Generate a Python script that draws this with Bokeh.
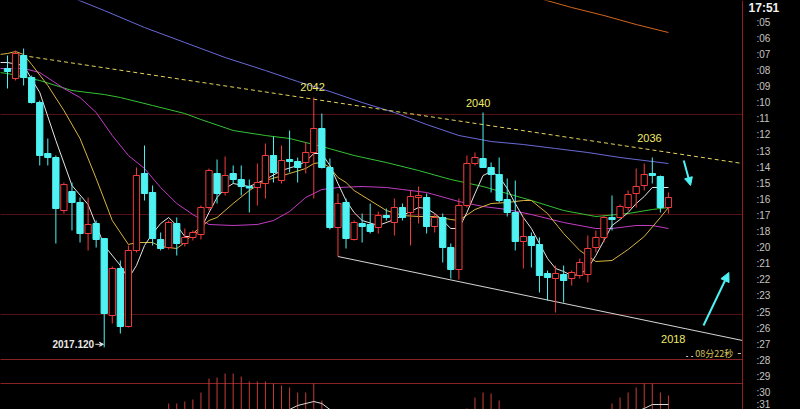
from bokeh.plotting import figure
from bokeh.models import (Range1d, LinearAxis, FixedTicker, CustomJSTickFormatter,
                          Arrow, NormalHead, VeeHead, ColumnDataSource)
from bokeh.embed import file_html
from bokeh.resources import INLINE
from bokeh.core.properties import value

NAN = float("nan")

# ---------------- data ----------------
opens = [2045.0, 2044.0, 2046.3, 2044.1, 2041.6, 2036.5, 2036.1, 2030.8, 2032.7, 2031.6,
         2028.5, 2029.5, 2028.0, 2020.3, 2025.0, 2019.2, 2026.8, 2034.5, 2032.6, 2027.9,
         2027.1, 2029.5, 2027.5, 2028.1, 2028.4, 2031.1, 2034.5, 2032.6, 2034.5, 2033.9,
         2033.2, 2033.1, 2033.5, 2036.3, 2033.8, 2035.9, 2035.7, 2035.6, 2036.6, 2039.0,
         2035.1, 2029.1, 2031.6, 2027.9, 2029.5, 2029.4, 2029.1, 2030.3, 2029.6, 2031.1,
         2030.6, 2032.1, 2032.1, 2029.2, 2030.1, 2027.1, 2024.9, 2031.3, 2035.5, 2036.0,
         2035.1, 2034.4, 2031.9, 2030.6, 2027.7, 2028.2, 2027.4, 2024.5, 2024.0, 2024.4,
         2024.0, 2024.3, 2024.4, 2027.1, 2028.1, 2030.1, 2030.1, 2031.1, 2032.5, 2033.3,
         2034.5, 2034.2, 2031.1]
highs = [2046.3, 2046.8, 2047.0, 2044.3, 2041.8, 2038.0, 2036.3, 2033.6, 2033.6, 2032.1,
         2032.1, 2029.8, 2028.0, 2025.2, 2025.8, 2027.3, 2035.1, 2037.3, 2033.3, 2028.6,
         2029.8, 2030.1, 2029.0, 2028.8, 2031.3, 2035.0, 2035.9, 2036.2, 2035.3, 2035.3,
         2033.9, 2035.5, 2037.5, 2038.2, 2037.3, 2038.8, 2036.1, 2037.6, 2042.1, 2040.5,
         2036.0, 2032.5, 2032.0, 2029.8, 2030.5, 2031.5, 2030.7, 2031.0, 2032.0, 2031.5,
         2032.8, 2033.2, 2032.5, 2030.5, 2030.5, 2027.5, 2032.0, 2036.3, 2036.6, 2040.6,
         2035.6, 2036.1, 2034.0, 2033.8, 2030.1, 2028.6, 2028.1, 2024.8, 2025.3, 2025.3,
         2024.8, 2026.0, 2028.3, 2028.8, 2030.3, 2032.3, 2031.4, 2032.8, 2035.0, 2035.5,
         2036.1, 2034.3, 2032.6]
lows = [2043.0, 2043.8, 2043.3, 2041.5, 2035.3, 2035.3, 2027.5, 2030.5, 2028.8, 2027.6,
        2026.8, 2027.1, 2017.12, 2019.5, 2018.5, 2019.1, 2026.6, 2031.8, 2027.3, 2026.8,
        2026.9, 2026.3, 2027.2, 2027.8, 2027.9, 2030.8, 2031.5, 2032.3, 2033.5, 2032.3,
        2030.6, 2031.3, 2032.0, 2033.6, 2033.5, 2034.6, 2033.6, 2034.5, 2032.0, 2035.0,
        2028.9, 2026.2, 2027.0, 2027.8, 2027.6, 2028.5, 2028.5, 2029.8, 2028.3, 2029.8,
        2027.3, 2029.5, 2028.5, 2028.6, 2025.6, 2024.0, 2023.9, 2031.1, 2035.3, 2035.1,
        2032.6, 2031.6, 2030.2, 2026.8, 2025.0, 2025.1, 2022.6, 2021.8, 2020.6, 2021.6,
        2023.3, 2024.0, 2023.6, 2026.6, 2027.6, 2028.8, 2030.0, 2030.8, 2031.1, 2032.8,
        2033.5, 2030.6, 2030.5]
closes = [2044.7, 2046.5, 2044.1, 2041.6, 2036.3, 2036.1, 2031.0, 2033.4, 2031.6, 2028.5,
          2029.4, 2027.9, 2020.5, 2025.0, 2019.2, 2026.8, 2034.3, 2032.5, 2028.0, 2027.0,
          2029.6, 2027.5, 2028.1, 2028.6, 2031.1, 2034.8, 2032.5, 2034.3, 2033.9, 2033.2,
          2033.05, 2033.6, 2036.3, 2034.6, 2035.8, 2035.7, 2035.1, 2036.6, 2039.0, 2035.1,
          2029.1, 2031.5, 2028.0, 2029.6, 2029.2, 2028.7, 2030.3, 2030.1, 2031.1, 2030.1,
          2032.2, 2032.3, 2029.2, 2030.1, 2027.1, 2024.9, 2031.3, 2035.5, 2036.1, 2035.1,
          2034.4, 2031.8, 2030.6, 2027.7, 2028.2, 2027.3, 2024.3, 2024.1, 2024.5, 2023.8,
          2024.6, 2025.6, 2027.0, 2028.1, 2030.1, 2029.9, 2031.2, 2032.4, 2033.2, 2034.4,
          2034.3, 2031.1, 2032.1]

# moving-average lines, sampled at candle positions
ma_white_i = [-1, 0, 2, 4, 6, 8, 10, 12, 14, 15, 16, 17, 18, 19, 20, 21, 22, 23, 24, 25, 26, 27,
              28, 30, 32, 34, 36, 37, 38, 39, 40, 41, 42, 43, 44, 46, 48, 50, 51, 52, 53, 54, 55,
              56, 57, 58, 59, 60, 61, 62, 63, 64, 65, 66, 67, 68, 69, 70, 71, 72, 73, 74, 75, 76,
              77, 78, 79, 80, 81, 82]
ma_white_p = [2045.6, 2045.6, 2045.3, 2042.6, 2037.8, 2033.3, 2031.4, 2027.3, 2025.3, 2024.0,
              2025.3, 2027.3, 2028.5, 2029.5, 2030.1, 2029.3, 2028.2, 2028.2, 2029.0, 2030.6,
              2032.1, 2033.0, 2033.5, 2033.2, 2033.9, 2034.8, 2035.3, 2035.7, 2036.5, 2036.5,
              2035.3, 2033.5, 2031.8, 2030.6, 2029.8, 2029.3, 2029.9, 2030.7, 2031.1, 2031.0,
              2030.5, 2029.8, 2029.0, 2029.0, 2030.6, 2032.5, 2034.3, 2034.7, 2034.2, 2033.0,
              2031.5, 2030.1, 2029.0, 2027.5, 2026.0, 2025.0, 2024.7, 2024.3, 2024.4, 2025.0,
              2026.3, 2027.8, 2029.3, 2029.9, 2030.6, 2031.5, 2032.2, 2033.1, 2033.1, 2033.1]
ma_yellow_i = [-1, 0, 1, 2, 3, 5, 7, 9, 11, 13, 15, 16, 18, 19, 21, 22, 23, 25, 26, 28, 30, 32,
               35, 37, 38, 39, 40, 41, 42, 43, 45, 47, 49, 51, 53, 55, 56, 58, 60, 62, 64, 65,
               67, 69, 71, 73, 75, 77, 79, 81, 82]
ma_yellow_p = [2046.4, 2046.5, 2046.7, 2046.4, 2045.4, 2043.3, 2040.8, 2038.0, 2034.0, 2029.8,
               2027.4, 2027.6, 2027.6, 2027.2, 2027.0, 2027.6, 2028.5, 2029.8, 2030.1, 2031.5,
               2032.8, 2033.8, 2034.5, 2035.0, 2035.5, 2035.6, 2035.1, 2034.1, 2033.6, 2032.8,
               2031.8, 2030.8, 2030.3, 2030.2, 2030.2, 2029.9, 2029.8, 2030.9, 2031.5, 2031.6,
               2031.8, 2031.8, 2030.5, 2028.5, 2026.8, 2025.7, 2025.8, 2026.9, 2028.2, 2030.1,
               2031.1]
ma_magenta_i = [-1, 0, 2, 4, 7, 9, 11, 13, 15, 17, 19, 21, 23, 25, 28, 31, 33, 35, 37, 39, 41,
                44, 47, 49, 52, 56, 59, 62, 65, 69, 73, 75, 78, 80, 82]
ma_magenta_p = [2045.0, 2045.0, 2045.0, 2044.6, 2043.0, 2042.1, 2040.6, 2038.3, 2036.3, 2035.0,
                2033.1, 2031.5, 2030.4, 2029.4, 2029.3, 2029.4, 2029.8, 2030.7, 2032.1, 2032.9,
                2033.1, 2033.2, 2033.1, 2032.9, 2032.6, 2031.7, 2031.2, 2030.9, 2030.4, 2029.6,
                2029.0, 2029.0, 2029.3, 2029.3, 2029.0]
ma_green_i = [-1, 0, 4, 8, 12, 14, 18, 22, 24, 28, 32, 35, 39, 43, 47, 51, 55, 59, 62, 65, 69,
              73, 77, 80, 82]
ma_green_p = [2044.6, 2044.5, 2043.8, 2042.8, 2042.4, 2042.1, 2041.3, 2040.5, 2039.9, 2038.8,
              2038.3, 2038.0, 2037.2, 2036.3, 2035.6, 2034.8, 2033.9, 2033.2, 2032.5, 2031.8,
              2030.8, 2030.2, 2030.5, 2030.9, 2031.1]
ma_blue_i = [8, 12, 17, 22, 27, 32, 36, 40, 44, 48, 52, 56, 60, 64, 68, 72, 76, 80, 82]
ma_blue_p = [2052.1, 2050.8, 2049.1, 2047.6, 2046.1, 2044.8, 2043.7, 2042.7, 2041.6, 2040.6,
             2039.4, 2038.3, 2037.7, 2037.4, 2037.0, 2036.6, 2036.1, 2035.7, 2035.5]
ma_orange_i = [66, 70, 74, 78, 82]
ma_orange_p = [2052.0, 2051.1, 2050.3, 2049.4, 2048.6]

# drawn trend lines
resist_i = [1, 91.19]
resist_p = [2046.4, 2035.5]
support_i = [41, 91.19]
support_p = [2026.2, 2017.8]

# MACD histogram (visible positive bars) and DIF line (gaps where hidden)
macd_i = [20, 21, 22, 23, 24, 25, 26, 27, 28, 29, 30, 31, 32, 33, 34, 35, 36, 37, 38, 39,
          57, 58, 59, 60, 61, 75, 76, 77, 78, 79, 80, 81, 82]
macd_v = [1.7, 1.7, 1.9, 2.1, 2.8, 4.2, 4.3, 4.7, 4.7, 4.4, 3.9, 3.9, 3.9, 3.7, 3.5, 3.3, 2.8,
          2.8, 3.7, 2.0, 1.2, 2.3, 2.8, 2.7, 2.0, 1.7, 2.3, 2.8, 3.3, 3.7, 3.7, 2.8, 2.5]
dif_i = [35, 36, 38, 39, 40, 41, 78, 79, 80, 82]
dif_v = [1.1, 1.5, 1.9, 1.7, 1.1, NAN, 0.9, 1.2, 1.6, 1.6]

# price axis labels
tick_vals = [2049.63, 2048.02, 2046.41, 2044.80, 2043.19, 2041.58, 2039.97, 2038.36, 2036.75,
             2035.14, 2033.53, 2031.92, 2030.31, 2028.70, 2027.09, 2025.48, 2023.87, 2022.26,
             2020.65, 2019.04, 2017.43, 2015.82, 2014.21, 2012.60, 2010.99]
tick_labels = [":05", ":06", ":07", ":08", ":09", ":10", ":11", ":12", ":13", ":14", ":15",
               ":16", ":17", ":18", ":20", ":21", ":22", ":23", ":25", ":26", ":27", ":28",
               ":29", ":30", ":31"]
grid_levels = [2040.4, 2030.4, 2020.4]
panel_levels = [6.1, 3.7]
axis_pos = 91.19

# annotations
peak_i = [37.85, 58.4, 79.65, 82.6]
peak_p = [2043.2, 2041.6, 2038.1, 2018.0]
peak_t = ["2042", "2040", "2036", "2018"]

UP = "#f23c3c"
DN = "#4ef2f2"
BG = "#000000"

# ---------------- figure ----------------
p = figure(width=800, height=409, output_backend="svg", toolbar_location=None,
           x_range=Range1d(-0.8685, 98.387), y_range=Range1d(2010.9, 2051.8),
           x_axis_location=None, y_axis_location=None,
           background_fill_color=BG, border_fill_color=BG, outline_line_color=None,
           min_border_left=0, min_border_top=0, min_border_bottom=0, min_border_right=0)
p.extra_y_ranges = {"macd": Range1d(1.1, 42.0)}
p.grid.visible = False

ax = LinearAxis(fixed_location=axis_pos)
ax.ticker = FixedTicker(ticks=tick_vals)
ax.formatter = CustomJSTickFormatter(args=dict(vals=tick_vals, labs=tick_labels), code="""
let best = 0;
for (let k = 0; k < vals.length; k++) {
  if (Math.abs(vals[k] - tick) < Math.abs(vals[best] - tick)) best = k;
}
return labs[best];
""")
ax.axis_line_color = "#9a1c1c"
ax.axis_line_width = 1
ax.major_tick_line_color = None
ax.minor_tick_line_color = None
ax.major_tick_out = 0
ax.major_tick_in = 0
ax.major_label_standoff = 14
ax.major_label_text_color = "#c4c4c4"
ax.major_label_text_font = "Liberation Sans"
ax.major_label_text_font_size = "10px"
p.add_layout(ax, "right")

# horizontal level lines (stop at the price axis)
for lv in grid_levels:
    p.line([-1, axis_pos], [lv, lv], line_color="#561212", line_width=1)
for lv in panel_levels:
    p.line([-1, axis_pos], [lv, lv], y_range_name="macd", line_color="#8a2424", line_width=1)

# MACD
p.segment(x0=macd_i, y0=[0] * len(macd_i), x1=macd_i, y1=macd_v, y_range_name="macd",
          line_color="#c83a3a", line_width=1)
p.line(dif_i, dif_v, y_range_name="macd", line_color="#d8d8d8", line_width=1)

# moving averages
p.line(ma_blue_i, ma_blue_p, line_color="#6a6ad8", line_width=1)
p.line(ma_orange_i, ma_orange_p, line_color="#d2661e", line_width=1)
p.line(ma_green_i, ma_green_p, line_color="#34c234", line_width=1)
p.line(ma_magenta_i, ma_magenta_p, line_color="#c23cc6", line_width=1)
p.line(ma_yellow_i, ma_yellow_p, line_color="#d8b440", line_width=1)
p.line(ma_white_i, ma_white_p, line_color="#e4e4e4", line_width=1)

# trend lines
p.line(resist_i, resist_p, line_color="#e6d45a", line_width=1, line_dash="4 3")
p.line(support_i, support_p, line_color="#d6d6d6", line_width=1)

# candles
idx = list(range(len(opens)))
is_up = [c >= o for o, c in zip(opens, closes)]
src = ColumnDataSource(dict(
    x=idx, o=opens, h=highs, l=lows, c=closes,
    top=[max(o, c) for o, c in zip(opens, closes)],
    bot=[min(o, c) for o, c in zip(opens, closes)],
    col=[UP if u else DN for u in is_up],
    fill=[BG if u else DN for u in is_up],
))
p.segment(x0="x", y0="h", x1="x", y1="l", line_color="col", line_width=1, source=src)
p.vbar(x="x", width=0.78, top="top", bottom="bot", fill_color="fill", line_color="col",
       line_width=1, source=src)

# peak / level labels
p.text(x=peak_i, y=peak_p, text=peak_t, text_color="#eeea6a", text_font=value("Liberation Sans"),
       text_font_size="11px", text_align="center", text_baseline="middle")
p.text(x=[10.75], y=[lows[12] + 0.3], text=["2017.120"], text_color="#e8e8e8",
       text_font=value("Liberation Sans"), text_font_style="bold", text_font_size="10px",
       text_align="right", text_baseline="middle")
p.add_layout(Arrow(end=VeeHead(size=4, line_color="#e8e8e8", fill_color="#e8e8e8"),
                   x_start=10.9, y_start=lows[12] + 0.3, x_end=11.9, y_end=lows[12] + 0.3,
                   line_color="#e8e8e8", line_width=1))
p.text(x=[87.7], y=[2016.5], text=["08分22秒"], text_color="#d8c45a",
       text_font=value("Noto Sans CJK SC"), text_font_size="9px",
       text_align="center", text_baseline="middle")
p.line([84.2, 85.4], [2016.2, 2016.2], line_color="#c8c8c8", line_width=1, line_dash="2 3")
p.line([90.6, 91.0], [2016.5, 2016.5], line_color="#c8c8c8", line_width=1)

# cyan arrows
p.add_layout(Arrow(end=NormalHead(size=8, line_color=DN, fill_color=DN),
                   x_start=83.9, y_start=2035.8, x_end=84.75, y_end=2033.3,
                   line_color=DN, line_width=2))
p.add_layout(Arrow(end=NormalHead(size=9, line_color=DN, fill_color=DN),
                   x_start=86.35, y_start=2019.3, x_end=89.5, y_end=2024.6,
                   line_color=DN, line_width=2))

# clock label in the axis area
p.text(x=[91.94], y=[2051.75], text=["17:51"], text_color="#f0f0f0",
       text_font=value("Liberation Sans"), text_font_style="bold", text_font_size="12px",
       text_align="left", text_baseline="top")

html = file_html(p, INLINE)
html = html.replace("</head>", "<style>body{background:#000000;}</style></head>", 1)
open("out.html", "w").write(html)
